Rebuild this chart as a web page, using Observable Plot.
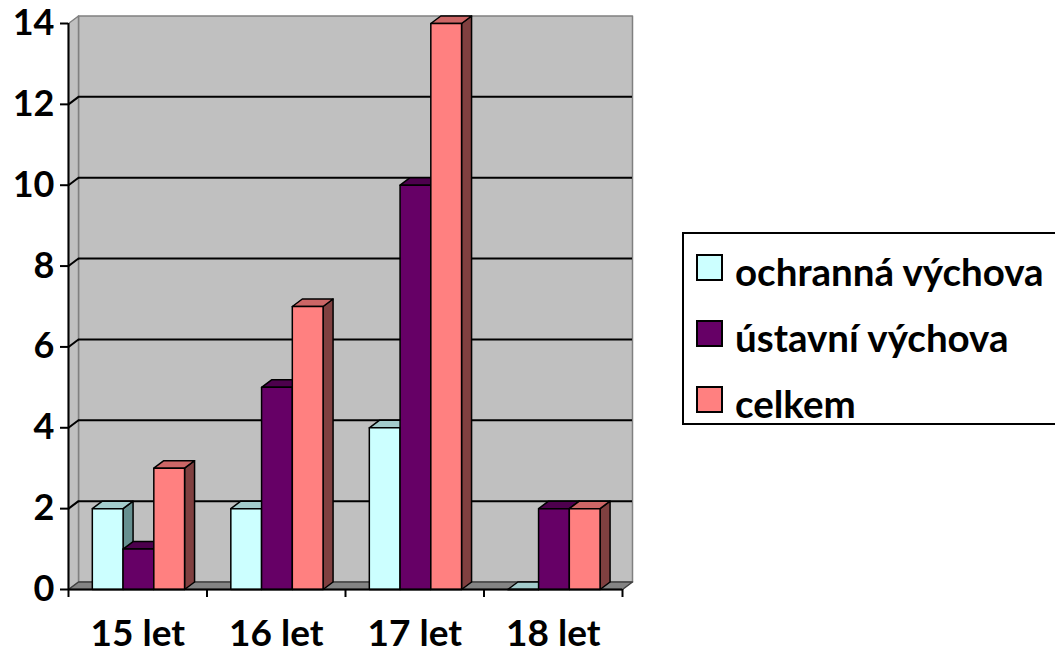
<!DOCTYPE html>
<html>
<head>
<meta charset="utf-8">
<script src="https://cdn.jsdelivr.net/npm/d3@7"></script>
<script src="https://cdn.jsdelivr.net/npm/@observablehq/plot@0.6"></script>
<style>
  html, body { margin: 0; padding: 0; background: white; }
  #wrap { position: relative; width: 1055px; height: 654px; overflow: hidden; }
  #legend { position: absolute; left: 682px; top: 232px; width: 380px; height: 193px;
    border: 2px solid black; box-sizing: border-box; background: white;
    font-family: Lato, "Open Sans", sans-serif; font-weight: bold; font-size: 38.5px; color: black; }
  .sw { position: absolute; left: 12px; width: 27px; height: 27px; border: 2px solid black; box-sizing: border-box; }
  .lt { position: absolute; left: 51px; line-height: 38px; white-space: nowrap; }
</style>
</head>
<body>
<div id="wrap"></div>
<script>
const categories = ["15 let", "16 let", "17 let", "18 let"];
const seriesNames = ["ochranná výchova", "ústavní výchova", "celkem"];
const ochranna = [2, 2, 4, 0];
const ustavni = [1, 5, 10, 2];
const celkem = [3, 7, 14, 2];
const yTicks = [0, 2, 4, 6, 8, 10, 12, 14];

const seriesValues = [ochranna, ustavni, celkem];
const frontColors = ["#CCFFFF", "#660066", "#FF8080"];
const topColors = ["#A3CCCC", "#4D004D", "#CC6666"];
const sideColors = ["#669090", "#330033", "#804040"];

const W = 1055, H = 654, mL = 68, mR = 433, mT = 23, mB = 65;
const yMax = 14, nCat = categories.length;
const pxX = (W - mL - mR) / nCat, pxY = (H - mT - mB) / yMax;
const ddx = 10 / pxX, ddy = 7.5 / pxY;   // 3D depth expressed in data units
const gapLeft = 0.172, barW = 0.222;

// polygons for bars: side, top, front per bar, in drawing order
const pts = [];
let pid = 0;
categories.forEach((c, i) => {
  seriesValues.forEach((vals, s) => {
    const v = vals[i];
    const x1 = i + gapLeft + s * barW, x2 = x1 + barW;
    const add = (corners, fill) => { const id = pid++; corners.forEach(([x, y]) => pts.push({x, y, id, fill})); };
    add([[x2, 0], [x2 + ddx, ddy], [x2 + ddx, v + ddy], [x2, v]], sideColors[s]);
    add([[x1, v], [x2, v], [x2 + ddx, v + ddy], [x1 + ddx, v + ddy]], topColors[s]);
    add([[x1, 0], [x2, 0], [x2, v], [x1, v]], frontColors[s]);
  });
});

const backWall = [[ddx, ddy], [nCat + ddx, ddy], [nCat + ddx, yMax + ddy], [ddx, yMax + ddy]].map(([x, y]) => ({x, y}));
const leftWall = [[0, 0], [ddx, ddy], [ddx, yMax + ddy], [0, yMax]].map(([x, y]) => ({x, y}));
const floor = [[0, 0], [nCat, 0], [nCat + ddx, ddy], [ddx, ddy]].map(([x, y]) => ({x, y}));
const gridVals = yTicks.filter(v => v > 0 && v < yMax);

const chart = Plot.plot({
  width: W, height: H,
  marginLeft: mL, marginRight: mR, marginTop: mT, marginBottom: mB,
  x: {domain: [0, nCat], axis: null},
  y: {domain: [0, yMax], axis: null},
  color: {type: "identity"},
  style: {fontFamily: "Lato, 'Open Sans', sans-serif", background: "white"},
  marks: [
    Plot.line(backWall, {x: "x", y: "y", fill: "#C0C0C0", stroke: "#808080", strokeWidth: 1.5, curve: "linear-closed"}),
    Plot.line(leftWall, {x: "x", y: "y", fill: "#C0C0C0", stroke: "#808080", strokeWidth: 1.5, curve: "linear-closed"}),
    Plot.line(floor, {x: "x", y: "y", fill: "#848484", stroke: "#404040", strokeWidth: 1.5, curve: "linear-closed"}),
    Plot.ruleY(gridVals, {y: d => d + ddy, x1: ddx, x2: nCat + ddx, stroke: "black", strokeWidth: 2}),
    Plot.link(gridVals, {x1: 0, y1: d => d, x2: ddx, y2: d => d + ddy, stroke: "black", strokeWidth: 2}),
    Plot.line(pts, {x: "x", y: "y", z: "id", fill: "fill", stroke: "black", strokeWidth: 1.5, curve: "linear-closed"}),
    Plot.ruleX([0], {y1: 0, y2: yMax, stroke: "black", strokeWidth: 2}),
    Plot.ruleY([0], {x1: 0, x2: nCat, stroke: "black", strokeWidth: 2}),
    Plot.axisY({ticks: yTicks, tickSize: 8, tickPadding: 6, tickFormat: d => String(d), label: null,
      fontSize: 36, fontWeight: "bold", stroke: "black", strokeWidth: 2}),
    Plot.axisX({ticks: d3.range(nCat + 1), tickSize: 8, tickFormat: () => "", label: null, stroke: "black", strokeWidth: 2}),
    Plot.axisX({ticks: categories.map((c, i) => i + 0.5), tickSize: 0, tickPadding: 30, label: null,
      tickFormat: d => categories[Math.floor(d)], fontSize: 37, fontWeight: "bold"})
  ]
});
document.getElementById("wrap").appendChild(chart);

const legend = document.createElement("div");
legend.id = "legend";
const swatchTops = [20, 86, 152];
const textTops = [18, 84, 150];
seriesNames.forEach((name, s) => {
  const sw = document.createElement("div");
  sw.className = "sw";
  sw.style.top = swatchTops[s] + "px";
  sw.style.background = frontColors[s];
  const t = document.createElement("div");
  t.className = "lt";
  t.style.top = textTops[s] + "px";
  t.textContent = name;
  legend.appendChild(sw); legend.appendChild(t);
});
document.getElementById("wrap").appendChild(legend);
</script>
</body>
</html>
